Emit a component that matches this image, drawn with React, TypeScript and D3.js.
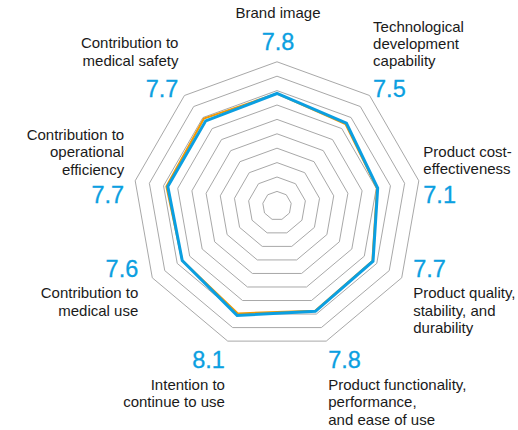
import React from 'react';
import * as d3 from 'd3';

// axes, clockwise from the top
const axes = [
  ['Brand image'],
  ['Technological', 'development', 'capability'],
  ['Product cost-', 'effectiveness'],
  ['Product quality,', 'stability, and', 'durability'],
  ['Product functionality,', 'performance,', 'and ease of use'],
  ['Intention to', 'continue to use'],
  ['Contribution to', 'medical use'],
  ['Contribution to', 'operational', 'efficiency'],
  ['Contribution to', 'medical safety'],
];
const scores = [7.8, 7.5, 7.1, 7.7, 7.8, 8.1, 7.6, 7.7, 7.7];
const prevScores = [7.8, 7.4, 7.05, 7.65, 7.75, 7.95, 7.6, 7.8, 7.9];
const rings = [1, 2, 3, 4, 5, 6, 7, 8, 9, 10];

// label placement relative to each outer vertex
const labelLayout = [
  { anchor: 'middle', dx: 1, valueDy: -12, textDy: -43.5 },
  { anchor: 'start', dx: 3.5, valueDy: 1.2, textDy: -63.5 },
  { anchor: 'start', dx: 4.5, valueDy: 22, textDy: -24 },
  { anchor: 'start', dx: 11.5, valueDy: -1, textDy: 20.5 },
  { anchor: 'start', dx: 2, valueDy: 27, textDy: 49 },
  { anchor: 'end', dx: -2.8, valueDy: 27, textDy: 49 },
  { anchor: 'end', dx: -14, valueDy: -1, textDy: 20.5 },
  { anchor: 'end', dx: -11, valueDy: 22, textDy: -40.5 },
  { anchor: 'end', dx: -6, valueDy: 1.5, textDy: -47 },
];

const W = 518;
const H = 430;
const cx = 277;
const cy = 205.8;
const R = 144;
const lineH = 17.2;

export default function App() {
  const n = axes.length;
  const angle = d3.scaleLinear().domain([0, n]).range([0, 2 * Math.PI]);
  const r = d3.scaleLinear().domain([0, 10]).range([0, R]);

  const line = d3.lineRadial<number>()
    .angle((d, i) => angle(i))
    .radius(d => r(d))
    .curve(d3.curveLinearClosed);

  const vertex = (i: number, v: number) => [
    cx + r(v) * Math.sin(angle(i)),
    cy - r(v) * Math.cos(angle(i)),
  ];

  const font = '"Liberation Sans", Arial, Helvetica, sans-serif';

  return (
    <svg width={W} height={H} style={{ position: 'absolute', left: 0, top: 0 }}>
      <g transform={`translate(${cx},${cy})`}>
        {rings.map(k => (
          <path key={k} d={line(d3.range(n).map(() => k)) || ''}
            fill="none" stroke="#a8a8a8" strokeWidth={1} />
        ))}
        <path d={line(prevScores) || ''} fill="none" stroke="#f39800"
          strokeWidth={2} strokeLinejoin="miter" />
        <path d={line(scores) || ''} fill="none" stroke="#0b9fe1"
          strokeWidth={3} strokeLinejoin="miter" />
      </g>
      {axes.map((lines, i) => {
        const [x, y] = vertex(i, 10);
        const L = labelLayout[i];
        return (
          <g key={i} fontFamily={font} textAnchor={L.anchor}>
            <text x={x + L.dx} y={y + L.valueDy} fontSize={23.5}
              fill="#0b9fe1" stroke="#0b9fe1" strokeWidth={0.3}>{scores[i].toFixed(1)}</text>
            {lines.map((t, j) => (
              <text key={j} x={x + L.dx} y={y + L.textDy + j * lineH}
                fontSize={15} fill="#1a1a1a">{t}</text>
            ))}
          </g>
        );
      })}
    </svg>
  );
}
